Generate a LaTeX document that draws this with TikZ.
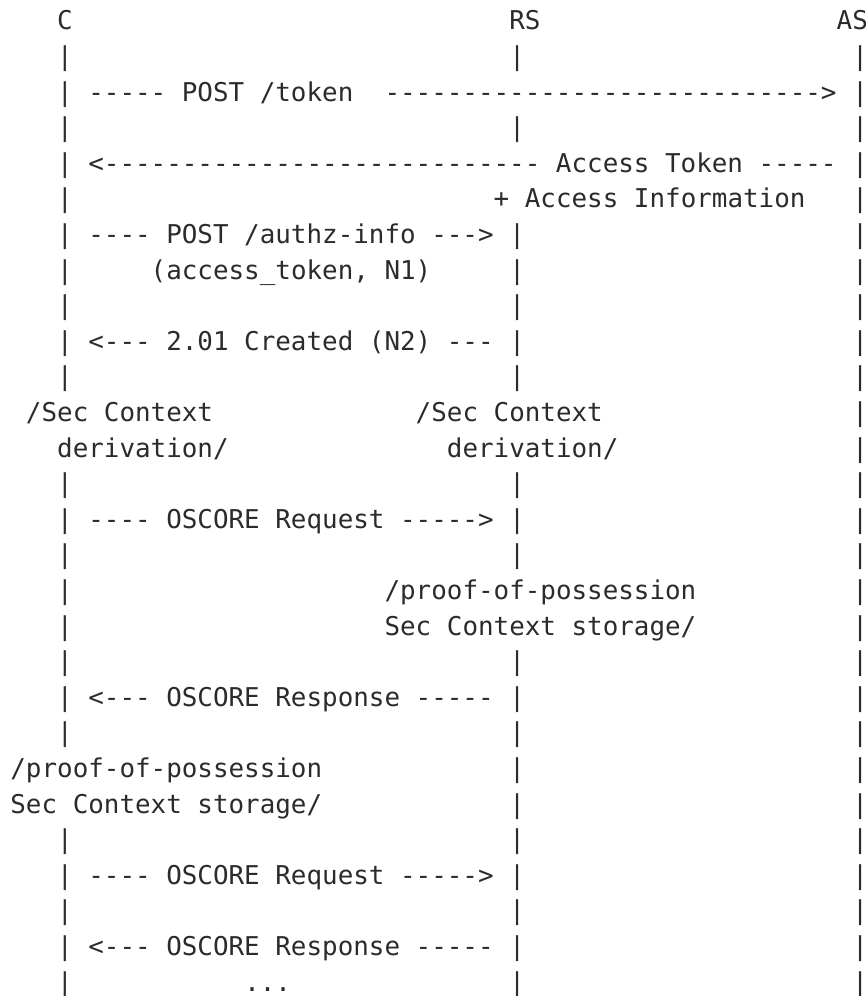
\documentclass[tikz,border=0pt]{standalone}
\usepackage{fontspec}
\setmonofont{DejaVu Sans Mono}
\definecolor{ink}{HTML}{2B2B2B}

\begin{document}
\begin{tikzpicture}[x=11.6925pt, y=-26.7pt,
  ascii/.style={inner sep=0pt, outer sep=0pt, anchor=base west, text=ink,
    font=\ttfamily\fontsize{19.42pt}{26pt}\selectfont\frenchspacing}]
\useasboundingbox (-0.667,0.163) rectangle (54.88,28.14);

% header
\node[ascii] (C) at (3,1) {C};
\node[ascii] (RS) at (32,1) {RS};
\node[ascii] (AS) at (53,1) {AS};

% life lines
\foreach \r in {2,...,11,14,15,...,21,24,25,...,28}
  \node[ascii] (c\r) at (3,\r) {|};
\foreach \r in {2,4,7,8,9,10,11,14,15,16,19,20,...,28}
  \node[ascii] (rs\r) at (32,\r) {|};
\foreach \r in {2,...,28}
  \node[ascii] (as\r) at (54,\r) {|};

% token request
\node[ascii] (tokreq) at (5,3) {----- POST /token\ \ ---------------------------->};
\node[ascii] (tokresp) at (5,5) {<---------------------------- Access Token -----};
\node[ascii] (tokinfo) at (31,6) {+ Access Information};

% authz-info
\node[ascii] (authz) at (5,7) {---- POST /authz-info --->};
\node[ascii] (authzarg) at (9,8) {(access\symbol{"5F}token, N1)};
\node[ascii] (created) at (5,10) {<--- 2.01 Created (N2) ---};

% context derivation
\node[ascii] (cderiv1) at (1,12) {/Sec Context};
\node[ascii] (cderiv2) at (3,13) {derivation/};
\node[ascii] (rsderiv1) at (26,12) {/Sec Context};
\node[ascii] (rsderiv2) at (28,13) {derivation/};

% first exchange
\node[ascii] (req1) at (5,15) {---- OSCORE Request ----->};
\node[ascii] (rspop1) at (24,17) {/proof-of-possession};
\node[ascii] (rspop2) at (24,18) {Sec Context storage/};
\node[ascii] (resp1) at (5,20) {<--- OSCORE Response -----};
\node[ascii] (cpop1) at (0,22) {/proof-of-possession};
\node[ascii] (cpop2) at (0,23) {Sec Context storage/};

% later exchanges
\node[ascii] (req2) at (5,25) {---- OSCORE Request ----->};
\node[ascii] (resp2) at (5,27) {<--- OSCORE Response -----};
\node[ascii] (more) at (15,28) {...};

\end{tikzpicture}
\end{document}
